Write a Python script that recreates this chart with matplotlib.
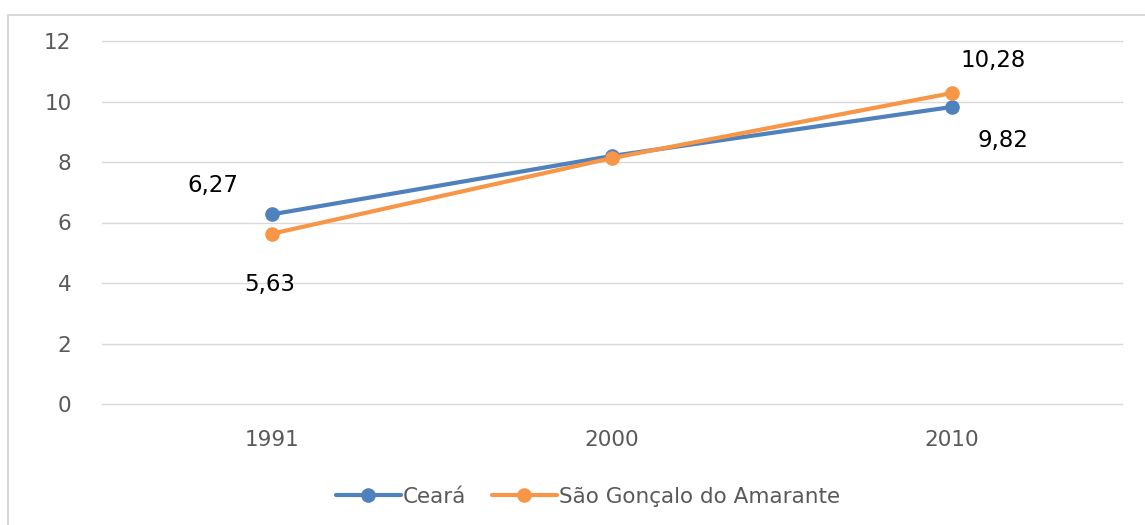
import matplotlib
matplotlib.use("Agg")
import matplotlib.pyplot as plt
from matplotlib.patches import Rectangle

years = ["1991", "2000", "2010"]
ceara = [6.27, 8.20, 9.82]
sga = [5.63, 8.13, 10.28]
series_names = ["Ceará", "São Gonçalo do Amarante"]
yticks = [0, 2, 4, 6, 8, 10, 12]

blue = "#4F81BD"
orange = "#F79646"

plt.rcParams['font.family'] = ['DejaVu Sans']
fig = plt.figure(figsize=(11.45, 5.25), dpi=100)
W, H = 1145, 525
ax = fig.add_axes([102 / W, 1 - 404 / H, (1122 - 102) / W, (404 - 41) / H])

# outer frame
fig.patches.append(Rectangle((8 / W, -0.1), 1.2, 1 - 15 / H + 0.1, transform=fig.transFigure,
                             fill=False, edgecolor="#D9D9D9", linewidth=1.5, zorder=0))

x = list(range(len(years)))
ax.plot(x, ceara, color=blue, lw=3, marker="o", ms=9.5, label=series_names[0], zorder=3,
        solid_capstyle="round")
ax.plot(x, sga, color=orange, lw=3, marker="o", ms=9.5, label=series_names[1], zorder=4,
        solid_capstyle="round")

ax.set_xlim(-0.5, len(years) - 0.5)
ax.set_ylim(0, 12)
ax.set_yticks(yticks)
ax.set_yticklabels([str(v) for v in yticks])
ax.set_xticks(x)
ax.set_xticklabels(years)
ax.grid(axis="y", color="#D9D9D9", lw=1)
for gl in ax.get_ygridlines():
    gl.set_clip_on(False)
ax.set_axisbelow(True)
for s in ax.spines.values():
    s.set_visible(False)
ax.tick_params(axis="y", length=0, pad=22, labelsize=15.5, labelcolor="#595959")
ax.tick_params(axis="x", length=0, pad=19, labelsize=15.5, labelcolor="#595959")

def fmt(v):
    return f"{v:.2f}".replace(".", ",")

offsets_c = [(-59, 29), None, (51, -34)]
offsets_s = [(-2, -51), None, (41, 33)]
for i, off in enumerate(offsets_c):
    if off:
        ax.annotate(fmt(ceara[i]), (x[i], ceara[i]), xytext=off, textcoords="offset pixels",
                    ha="center", va="center", fontsize=16.5, color="#000000")
for i, off in enumerate(offsets_s):
    if off:
        ax.annotate(fmt(sga[i]), (x[i], sga[i]), xytext=off, textcoords="offset pixels",
                    ha="center", va="center", fontsize=16.5, color="#000000")

leg = fig.legend(loc="center", bbox_to_anchor=(588 / W, 1 - 497 / H), ncol=2, frameon=False,
                 fontsize=15.5, handlelength=3.0, handletextpad=0.1, columnspacing=1.2)
for t in leg.get_texts():
    t.set_color("#595959")

fig.savefig("out.png", dpi=100)
